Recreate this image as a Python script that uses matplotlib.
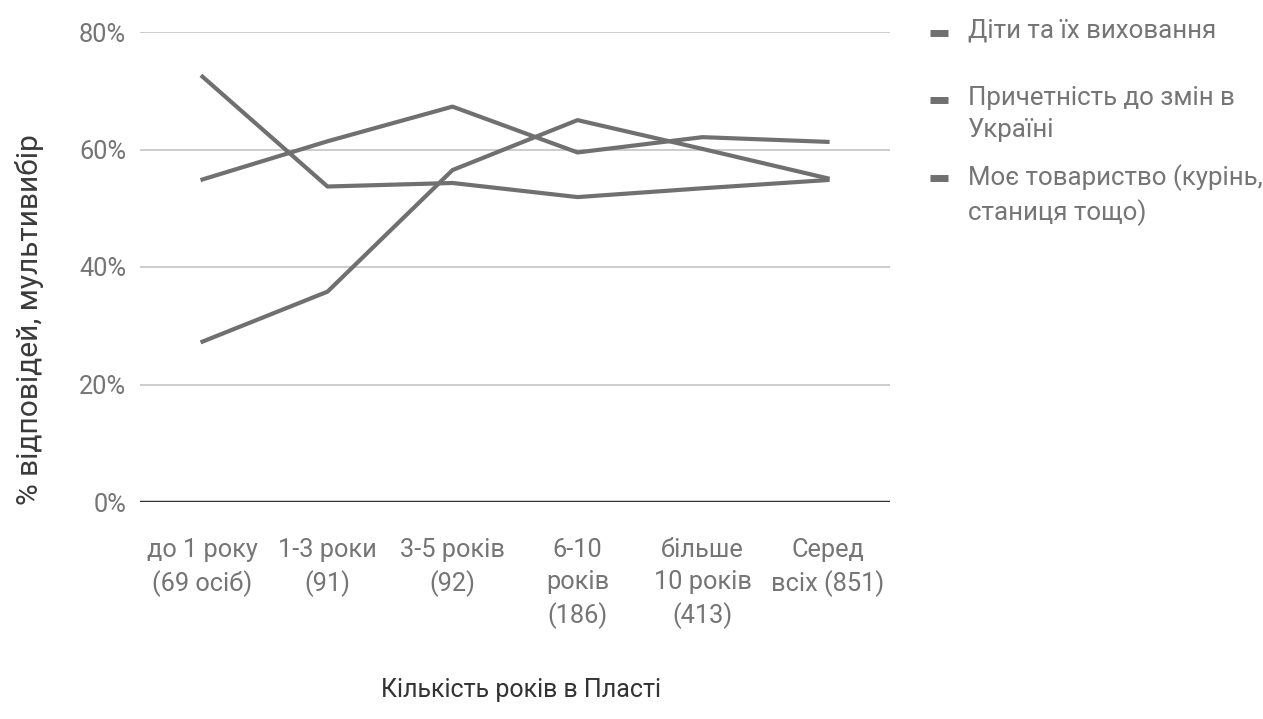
import numpy as np
import matplotlib.pyplot as plt
from matplotlib.lines import Line2D

plt.rcParams['font.family'] = ['Roboto', 'DejaVu Sans']

categories = ['до 1 року\n(69 осіб)', '1-3 роки\n(91)', '3-5 років\n(92)',
              '6-10\nроків\n(186)', 'більше\n10 років\n(413)', 'Серед\nвсіх (851)']

# % of answers per group (multiple choice)
kids = [72.4, 53.7, 54.3, 51.9, 53.4, 54.8]
ukraine = [54.9, 61.4, 67.3, 59.5, 62.1, 61.3]
community = [27.3, 35.8, 56.5, 65.0, 60.1, 55.1]

series_names = ['Діти та їх виховання', 'Причетність до змін в\nУкраїні',
                'Моє товариство (курінь,\nстаниця тощо)']
yticks = [0, 20, 40, 60, 80]

line_color = '#707070'
tick_color = '#757575'
W, H = 1263, 719

fig = plt.figure(figsize=(W / 100, H / 100), dpi=100)
ax = fig.add_axes([140/W, 1 - 502/H, 750/W, 470/H])

x = np.arange(len(categories))
lines = []
for vals, name in zip([kids, ukraine, community], series_names):
    ln, = ax.plot(x, vals, color=line_color, lw=3, label=name)
    lines.append(ln)

ax.set_ylim(0, 80)
ax.set_xlim(-0.5, 5.5)
ax.set_yticks(yticks)
ax.set_yticklabels([f'{v}%' for v in yticks])
ax.set_xticks(x)
ax.set_xticklabels(categories, linespacing=1.4)

ax.grid(axis='y', color='#cccccc', lw=1.4)
ax.set_axisbelow(True)
ax.axhline(0, color='#333333', lw=2.5, zorder=1)
for s in ax.spines.values():
    s.set_visible(False)
ax.tick_params(axis='both', length=0, labelsize=18.3, colors=tick_color)
ax.tick_params(axis='x', pad=26)
ax.tick_params(axis='y', pad=10)

fig.text(30/W, 1 - 320/H, '% відповідей, мультивибір', rotation=90,
         ha='center', va='center', fontsize=21.5, color='#3a3a3a')
fig.text(521/W, 1 - 690/H, 'Кількість років в Пласті', ha='center',
         va='center', fontsize=18, color='#333333')

# legend drawn by hand so the entries sit where they should
legend_y = [33, 100, 178]
for ln, name, ly in zip(lines, series_names, legend_y):
    fig.add_artist(Line2D([930/W, 948/W], [1 - ly/H, 1 - ly/H], lw=5,
                          color=ln.get_color(), solid_capstyle='butt',
                          transform=fig.transFigure))
    fig.text(968/W, 1 - (ly - 14)/H, name, ha='left', va='top',
             fontsize=18.6, color=tick_color, linespacing=1.42)

fig.savefig('out.png', dpi=100)
